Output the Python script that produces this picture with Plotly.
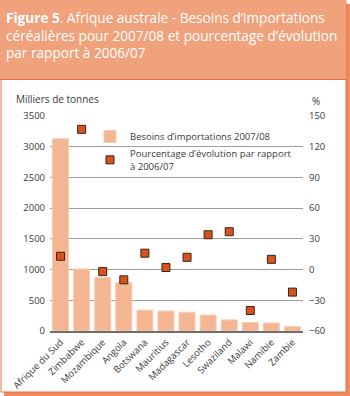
import plotly.graph_objects as go

countries = ["Afrique du Sud", "Zimbabwe", "Mozambique", "Angola", "Botswana", "Mauritius",
             "Madagascar", "Lesotho", "Swaziland", "Malawi", "Namibie", "Zambie"]
imports_kt = [3130, 1010, 870, 785, 340, 325, 305, 260, 180, 140, 130, 70]
pct_change = [13, 137, -2, -10, 16, 2, 12, 34, 37, -40, 10, -22]

left_ticks = [0, 500, 1000, 1500, 2000, 2500, 3000, 3500]
right_ticks = [-60, -30, 0, 30, 60, 90, 120, 150]

W, H = 350, 396
L, R, T, B = 50, 303, 116, 331


def px(x):
    return (x - L) / (R - L)


def py(y):
    return 1 - (y - T) / (B - T)


TEXT = "#3a3a3a"
FONT = "Open Sans"

fig = go.Figure()
fig.add_trace(go.Bar(
    x=countries, y=imports_kt, name="Besoins d’importations 2007/08",
    marker=dict(color="#F4B592", line=dict(color="#F8CDB3", width=1)),
    width=0.76, yaxis="y",
))
fig.add_trace(go.Scatter(
    x=countries, y=pct_change, name="Pourcentage d’évolution par rapport<br>à 2006/07",
    mode="markers", yaxis="y2",
    marker=dict(symbol="square", size=8, color="#D9531F", line=dict(color="#3a2418", width=1)),
))

shapes = [
    # drop shadow
    dict(type="rect", xref="paper", yref="paper", x0=px(4), x1=px(350), y0=py(396), y1=py(4),
         fillcolor="#EE8B5C", line=dict(width=0), layer="below"),
    # white panel
    dict(type="rect", xref="paper", yref="paper", x0=px(1), x1=px(346), y0=py(392), y1=py(0.5),
         fillcolor="white", line=dict(color="#E87040", width=1), layer="below"),
    # title band
    dict(type="rect", xref="paper", yref="paper", x0=px(0), x1=px(346), y0=py(79), y1=py(0),
         fillcolor="#EFA27B", line=dict(width=0), layer="below"),
    dict(type="line", xref="paper", yref="paper", x0=px(0), x1=px(346), y0=py(79.5), y1=py(79.5),
         line=dict(color="#E56B38", width=1.2), layer="below"),
    # legend background hiding gridlines
    dict(type="rect", xref="paper", yref="paper", x0=px(102), x1=px(303), y0=py(171), y1=py(121),
         fillcolor="white", line=dict(width=0), layer="between"),
]

annotations = [
    dict(xref="paper", yref="paper", x=px(4), y=py(6), xanchor="left", yanchor="top",
         align="left", showarrow=False,
         text="<b>Figure 5</b>. Afrique australe - Besoins d’importations<br>céréalières pour 2007/08 et pourcentage d’évolution<br>par rapport à 2006/07",
         font=dict(family=FONT, size=13.6, color="white")),
    dict(xref="paper", yref="paper", x=px(14), y=py(99), xanchor="left", yanchor="middle",
         showarrow=False, text="Milliers de tonnes", font=dict(family=FONT, size=10, color=TEXT)),
    dict(xref="paper", yref="paper", x=px(316), y=py(101), xanchor="center", yanchor="middle",
         showarrow=False, text="%", font=dict(family=FONT, size=10, color=TEXT)),
]

fig.update_layout(
    width=W, height=H,
    margin=dict(l=L, r=W - R, t=T, b=H - B, pad=0, autoexpand=False),
    paper_bgcolor="white", plot_bgcolor="rgba(0,0,0,0)",
    font=dict(family=FONT, size=9, color=TEXT),
    showlegend=True,
    legend=dict(x=px(90), y=py(122), xanchor="left", yanchor="top",
                bgcolor="rgba(0,0,0,0)", font=dict(family=FONT, size=9.5, color=TEXT),
                tracegroupgap=6, itemwidth=30),
    xaxis=dict(range=[-0.5, 11.5], tickangle=-45, showgrid=False, ticks="", automargin=False,
               showline=True, linecolor="#6e6e6e", linewidth=2,
               tickfont=dict(family=FONT, size=9.5, color=TEXT)),
    yaxis=dict(range=[0, 3500], tickvals=left_ticks, showgrid=True, gridcolor="#9e9e9e",
               gridwidth=1, zeroline=False, ticks="", ticklabelstandoff=4, automargin=False,
               tickfont=dict(family=FONT, size=9.5, color=TEXT)),
    yaxis2=dict(range=[-60, 150], tickvals=right_ticks, overlaying="y", side="right",
                showgrid=False, zeroline=False, ticks="", ticklabelstandoff=5, automargin=False,
                tickfont=dict(family=FONT, size=9.5, color=TEXT)),
    shapes=shapes, annotations=annotations,
)

fig.write_html("out.html")
